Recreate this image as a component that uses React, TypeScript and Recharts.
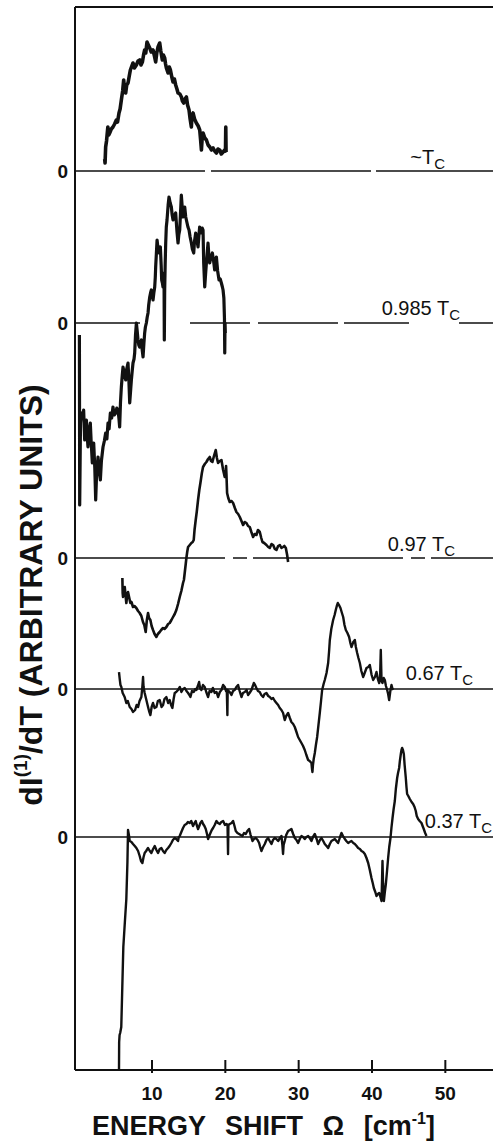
import { LineChart, Line, XAxis, YAxis, ReferenceLine } from "recharts";

// energy shift (cm-1) vs dI/dT, each trace read relative to its own zero line
const tempLabels = ["~", "0.985 ", "0.97 ", "0.67 ", "0.37 "];
const zeroLevels = [899, 747, 512, 381, 233];
const xTicks = [10, 20, 30, 40, 50];

const traceTc: [number, number][] = [
  [3.55,12],[3.6,8],[3.68,24],[3.8,30],[3.98,44],[4.1,36],[4.23,38],[4.45,42],[4.68,44],[4.9,47],[5.14,51],[5.3,49],[5.5,58],[5.65,62],[5.82,71],[6.0,80],[6.14,91],[6.25,82],[6.41,78],[6.55,86],[6.73,88],[6.9,95],[7.05,101],[7.2,104],[7.41,108],[7.6,103],[7.87,106],[8.1,110],[8.32,111],[8.5,106],[8.69,109],[8.85,116],[9.0,121],[9.15,118],[9.32,129],[9.5,126],[9.69,123],[9.9,119],[10.14,121],[10.3,116],[10.5,109],[10.65,118],[10.82,124],[11.05,128],[11.2,120],[11.41,111],[11.55,116],[11.73,113],[11.85,107],[11.96,103],[12.19,98],[12.35,104],[12.51,101],[12.7,94],[12.87,89],[13.05,92],[13.23,86],[13.4,82],[13.55,78],[13.8,77],[14.01,74],[14.15,70],[14.33,68],[14.5,72],[14.69,74],[14.85,66],[15.05,61],[15.2,52],[15.37,44],[15.45,56],[15.6,58],[15.8,52],[16.05,48],[16.3,45],[16.51,41],[16.62,32],[16.74,21],[16.85,34],[16.97,38],[17.2,33],[17.42,31],[17.65,26],[17.88,24],[18.1,21],[18.33,23],[18.55,20],[18.79,18],[19.0,22],[19.24,21],[19.45,17],[19.7,19],[19.92,21],[20.02,20],[20.06,44],[20.1,19],
];

const trace0985: [number, number][] = [
  [0.1,-12],[0.14,-182],[0.25,-100],[0.36,-90],[0.5,-95],[0.68,-87],[0.82,-117],[0.95,-105],[1.05,-97],[1.15,-112],[1.27,-124],[1.4,-108],[1.59,-100],[1.7,-118],[1.86,-140],[1.95,-128],[2.05,-120],[2.2,-145],[2.32,-177],[2.45,-150],[2.64,-134],[2.8,-148],[2.96,-157],[3.1,-138],[3.32,-124],[3.5,-118],[3.68,-110],[3.85,-116],[4.0,-100],[4.15,-106],[4.32,-90],[4.5,-95],[4.68,-84],[4.85,-92],[5.05,-90],[5.2,-85],[5.37,-87],[5.5,-96],[5.59,-104],[5.7,-80],[5.82,-64],[5.95,-52],[6.05,-44],[6.2,-50],[6.41,-57],[6.55,-46],[6.73,-40],[6.85,-58],[6.96,-80],[7.1,-66],[7.19,-57],[7.3,-48],[7.41,-40],[7.55,-36],[7.64,-30],[7.75,-12],[7.87,0],[7.98,-8],[8.09,-17],[8.2,-22],[8.32,-24],[8.45,-19],[8.55,-17],[8.65,-26],[8.78,-34],[8.9,-20],[9.0,-10],[9.1,-4],[9.23,0],[9.35,6],[9.46,10],[9.55,18],[9.69,26],[9.8,30],[9.91,33],[10.02,28],[10.14,23],[10.25,30],[10.37,36],[10.45,46],[10.5,56],[10.6,70],[10.69,83],[10.8,76],[10.96,70],[11.05,74],[11.14,76],[11.25,58],[11.32,43],[11.42,40],[11.5,36],[11.58,44],[11.64,50],[11.68,-17],[11.73,33],[11.8,60],[11.87,80],[11.95,96],[12.05,103],[12.2,118],[12.32,126],[12.48,120],[12.64,116],[12.75,108],[12.87,103],[13.05,107],[13.23,110],[13.4,92],[13.55,80],[13.65,88],[13.78,93],[13.9,112],[14.0,128],[14.1,118],[14.23,106],[14.35,112],[14.46,116],[14.6,106],[14.78,100],[14.9,96],[15.05,93],[15.2,86],[15.37,80],[15.5,74],[15.69,70],[15.8,82],[15.96,90],[16.1,84],[16.28,76],[16.4,88],[16.5,96],[16.6,90],[16.73,90],[16.85,95],[16.96,93],[17.05,60],[17.19,36],[17.3,48],[17.42,60],[17.55,72],[17.64,80],[17.75,68],[17.87,60],[18.05,66],[18.23,70],[18.4,62],[18.55,53],[18.65,60],[18.78,66],[18.95,52],[19.14,43],[19.3,44],[19.46,40],[19.6,36],[19.69,33],[19.8,25],[19.88,5],[19.92,-30],[19.96,0],[20.0,-10],
];

const trace097: [number, number][] = [
  [5.96,-20],[6.0,-35],[6.05,-39],[6.15,-31],[6.28,-29],[6.4,-38],[6.5,-45],[6.6,-38],[6.73,-34],[6.9,-40],[7.05,-45],[7.2,-44],[7.41,-49],[7.6,-48],[7.86,-50],[8.1,-53],[8.32,-55],[8.55,-58],[8.77,-64],[8.95,-67],[9.14,-74],[9.3,-62],[9.46,-55],[9.6,-60],[9.78,-62],[9.95,-68],[10.14,-72],[10.35,-76],[10.6,-79],[10.8,-76],[11.05,-74],[11.25,-72],[11.5,-70],[11.7,-71],[11.96,-69],[12.2,-66],[12.41,-65],[12.65,-62],[12.87,-59],[13.1,-56],[13.32,-52],[13.55,-46],[13.78,-39],[14.0,-33],[14.23,-25],[14.35,-22],[14.46,-15],[14.6,-6],[14.69,0],[14.8,6],[14.92,11],[15.15,13],[15.37,15],[15.55,16],[15.69,18],[15.8,28],[15.96,38],[16.1,46],[16.28,58],[16.45,68],[16.6,75],[16.8,85],[16.96,91],[17.2,94],[17.42,96],[17.65,99],[17.87,101],[18.05,97],[18.24,96],[18.45,102],[18.69,108],[18.85,100],[19.01,95],[19.25,97],[19.47,98],[19.7,88],[19.92,81],[20.05,86],[20.1,92],[20.15,84],[20.24,65],[20.4,60],[20.6,56],[20.85,57],[21.06,55],[21.3,50],[21.51,46],[21.75,44],[21.97,41],[22.2,37],[22.42,33],[22.65,36],[22.88,35],[23.1,32],[23.33,31],[23.55,26],[23.79,21],[24.0,24],[24.24,23],[24.45,28],[24.7,26],[24.9,20],[25.06,16],[25.3,15],[25.61,13],[25.85,11],[26.06,10],[26.3,14],[26.52,13],[26.75,9],[26.97,8],[27.2,12],[27.43,13],[27.65,10],[27.88,11],[28.05,12],[28.25,10],[28.43,3],[28.56,-4],
];

const trace067: [number, number][] = [
  [5.5,17],[5.6,10],[5.7,4],[5.82,2],[6.0,-4],[6.27,-8],[6.5,-14],[6.7,-12],[6.96,-18],[7.2,-20],[7.41,-23],[7.7,-21],[7.9,-16],[8.1,-18],[8.3,-12],[8.55,-8],[8.68,2],[8.78,12],[8.85,2],[9.0,-4],[9.2,-10],[9.46,-18],[9.6,-22],[9.78,-26],[9.95,-18],[10.14,-14],[10.35,-19],[10.6,-18],[10.8,-12],[11.05,-11],[11.3,-18],[11.51,-16],[11.7,-10],[11.96,-8],[12.2,-14],[12.41,-11],[12.6,-16],[12.78,-19],[12.95,-10],[13.1,-4],[13.3,-3],[13.55,-1],[13.8,2],[14.01,-3],[14.25,0],[14.46,1],[14.7,-2],[14.92,-4],[15.1,-6],[15.24,-8],[15.45,-2],[15.69,-3],[15.9,0],[16.05,-1],[16.25,3],[16.42,7],[16.55,1],[16.74,-1],[16.95,4],[17.19,2],[17.4,-3],[17.65,-8],[17.85,-2],[18.1,-3],[18.3,1],[18.56,-4],[18.8,-3],[19.01,-8],[19.25,-3],[19.47,-1],[19.7,4],[19.92,2],[20.1,-2],[20.2,-1],[20.28,-26],[20.32,-1],[20.6,-3],[20.83,-6],[21.05,-2],[21.28,-1],[21.5,2],[21.74,4],[21.95,-2],[22.2,-8],[22.4,-4],[22.65,-3],[22.9,-1],[23.1,-6],[23.3,-4],[23.56,-1],[23.75,3],[23.88,6],[24.05,4],[24.24,1],[24.45,-2],[24.69,-3],[24.9,-6],[25.15,-8],[25.35,-5],[25.6,-4],[25.85,-7],[26.06,-8],[26.3,-10],[26.51,-9],[26.75,-12],[26.97,-14],[27.2,-16],[27.42,-19],[27.65,-21],[27.88,-24],[28.0,-28],[28.1,-31],[28.3,-27],[28.56,-24],[28.8,-29],[29.01,-33],[29.25,-35],[29.47,-38],[29.7,-43],[29.92,-48],[30.15,-51],[30.38,-54],[30.6,-57],[30.83,-61],[31.05,-66],[31.29,-71],[31.5,-72],[31.74,-74],[31.82,-80],[31.88,-83],[31.95,-76],[32.05,-70],[32.2,-64],[32.35,-56],[32.52,-48],[32.7,-36],[32.88,-24],[33.05,-12],[33.2,-1],[33.4,5],[33.56,9],[33.8,16],[34.02,26],[34.15,38],[34.25,49],[34.45,60],[34.7,69],[34.9,74],[35.06,79],[35.2,83],[35.34,86],[35.5,84],[35.7,81],[35.9,76],[36.07,72],[36.25,64],[36.43,59],[36.65,56],[36.88,52],[37.05,46],[37.2,42],[37.45,47],[37.66,49],[37.8,42],[37.98,36],[38.15,31],[38.34,26],[38.55,18],[38.79,12],[39.0,16],[39.25,21],[39.5,22],[39.7,24],[39.95,14],[40.16,9],[40.4,12],[40.61,17],[40.8,10],[40.98,6],[41.1,12],[41.2,39],[41.3,8],[41.43,6],[41.6,11],[41.75,9],[41.9,3],[42.07,-1],[42.2,-5],[42.34,-11],[42.5,-2],[42.66,4],[42.8,0],[42.89,1],
];

const trace037: [number, number][] = [
  [5.5,-233],[5.52,-205],[5.58,-198],[5.66,-196],[5.81,-190],[5.95,-150],[6.09,-110],[6.3,-85],[6.5,-62],[6.65,-25],[6.73,7],[6.85,2],[6.96,-4],[7.2,-5],[7.41,-7],[7.65,-9],[7.87,-11],[8.1,-14],[8.32,-19],[8.5,-24],[8.69,-26],[8.85,-20],[9.0,-16],[9.2,-14],[9.46,-11],[9.7,-14],[9.91,-16],[10.15,-12],[10.37,-9],[10.6,-13],[10.82,-16],[11.05,-12],[11.28,-11],[11.5,-14],[11.73,-16],[11.95,-13],[12.19,-11],[12.4,-9],[12.64,-6],[12.85,-3],[13.1,-1],[13.3,-2],[13.55,-4],[13.65,0],[13.78,1],[14.0,5],[14.23,9],[14.45,12],[14.69,13],[14.9,15],[15.14,14],[15.35,16],[15.6,11],[15.8,14],[15.96,16],[16.1,12],[16.28,8],[16.45,11],[16.6,14],[16.8,16],[16.97,13],[17.15,11],[17.33,8],[17.5,3],[17.65,-2],[17.8,1],[17.97,4],[18.15,7],[18.33,9],[18.55,12],[18.79,16],[19.0,14],[19.24,13],[19.45,15],[19.7,16],[19.95,12],[20.15,13],[20.3,12],[20.37,-17],[20.42,12],[20.6,13],[20.85,14],[21.06,16],[21.25,11],[21.42,6],[21.65,4],[21.88,3],[22.1,2],[22.33,1],[22.55,4],[22.79,3],[23.0,6],[23.24,8],[23.45,2],[23.7,-4],[23.9,-2],[24.15,-1],[24.4,-3],[24.61,-6],[24.75,-10],[24.92,-14],[25.15,-10],[25.38,-7],[25.6,-3],[25.83,-1],[26.05,-4],[26.29,-7],[26.5,-3],[26.74,-1],[26.95,-2],[27.2,-4],[27.45,-1],[27.65,1],[27.78,-8],[27.87,-17],[27.95,-8],[28.1,-4],[28.3,2],[28.56,6],[28.8,7],[29.01,8],[29.25,3],[29.47,-1],[29.7,-3],[29.92,-6],[30.15,-2],[30.38,1],[30.6,0],[30.83,-2],[31.05,0],[31.29,1],[31.5,-1],[31.74,-4],[31.95,0],[32.2,3],[32.45,-2],[32.65,-7],[32.9,-3],[33.11,-1],[33.35,-4],[33.56,-7],[33.8,-9],[34.02,-11],[34.25,-7],[34.47,-4],[34.7,-3],[34.93,-2],[35.15,-4],[35.38,-6],[35.6,-1],[35.84,4],[36.05,1],[36.29,-2],[36.5,-4],[36.75,-6],[36.95,-5],[37.2,-4],[37.45,-6],[37.66,-7],[37.9,-9],[38.11,-11],[38.35,-12],[38.57,-14],[38.8,-15],[39.02,-17],[39.25,-21],[39.48,-26],[39.7,-33],[39.93,-41],[40.1,-46],[40.25,-51],[40.45,-55],[40.61,-59],[40.8,-57],[40.98,-56],[41.15,-60],[41.3,-64],[41.38,-40],[41.43,-24],[41.5,-45],[41.62,-64],[41.75,-55],[41.89,-47],[42.05,-34],[42.2,-21],[42.35,-10],[42.52,-1],[42.65,9],[42.8,19],[42.95,28],[43.11,36],[43.25,48],[43.43,59],[43.55,64],[43.7,69],[43.8,76],[43.93,83],[44.02,87],[44.11,89],[44.22,87],[44.34,83],[44.45,72],[44.61,59],[44.7,50],[44.79,43],[44.95,41],[45.16,38],[45.4,35],[45.61,33],[45.8,30],[45.97,26],[46.1,21],[46.29,18],[46.5,16],[46.75,14],[46.9,11],[47.06,8],[47.25,4],[47.43,1],
];

const traces = [traceTc, trace0985, trace097, trace067, trace037];

const FONT = '"Liberation Sans", Arial, Helvetica, sans-serif';
const INK = "#111";
const yTop = 1063;
const lineWidths = [3.6, 3.2, 2.6, 2.4, 2.4];
const zeroDash = ["130 6 160 5", "65 50 60 8 80 6", "150 8 14 6", undefined, undefined];
// label placement: distance from the right edge and lift above the zero line
const labelSpots = [
  { gap: 48, lift: 7 },
  { gap: 33, lift: 8 },
  { gap: 38, lift: 7 },
  { gap: 20, lift: 9 },
  { gap: 1, lift: 9 },
];

const traceData = traces.map((t, i) => t.map(([x, v]) => ({ x, y: zeroLevels[i] + v })));

const XTick = (p: any) => (
  <g>
    <line x1={p.x} x2={p.x} y1={p.y - 10} y2={p.y + 3} stroke={INK} strokeWidth={2} />
    <text x={p.x} y={p.y + 30} textAnchor="middle" fontFamily={FONT} fontWeight="bold" fontSize={19} fill={INK}>
      {p.payload.value}
    </text>
  </g>
);

const YTick = (p: any) => (
  <text x={p.x} y={p.y} dy={7} textAnchor="end" fontFamily={FONT} fontWeight="bold" fontSize={19} fill={INK}>
    0
  </text>
);

const XTitle = (p: any) => {
  const vb = p.viewBox;
  return (
    <text x={vb.x + 17} y={vb.y + 65} fontFamily={FONT} fontWeight="bold" fontSize={27} fill={INK} style={{ wordSpacing: 12 }}>
      ENERGY SHIFT Ω [cm<tspan dy={-11} fontSize={16}>-1</tspan><tspan dy={11}>]</tspan>
    </text>
  );
};

const YTitle = (p: any) => {
  const vb = p.viewBox;
  const cx = vb.x + 31;
  const cy = vb.y + 588;
  return (
    <text
      x={cx}
      y={cy}
      transform={`rotate(-90, ${cx}, ${cy})`}
      textAnchor="middle"
      dominantBaseline="central"
      fontFamily={FONT}
      fontWeight="bold"
      fontSize={32}
      fill={INK}
    >
      dI<tspan dy={-11} fontSize={19}>(1)</tspan><tspan dy={11}>/dT (ARBITRARY UNITS)</tspan>
    </text>
  );
};

const traceLabel = (i: number) => (p: any) => {
  const vb = p.viewBox;
  const s = labelSpots[i];
  return (
    <text x={vb.x + vb.width - s.gap} y={vb.y - s.lift} textAnchor="end" fontFamily={FONT} fontSize={20} fill={INK}>
      {tempLabels[i]}T<tspan fontSize={15} dy={5}>C</tspan>
    </text>
  );
};

export default function App() {
  return (
    <div style={{ position: "absolute", left: 0, top: 0, background: "#fff" }}>
      <LineChart width={493} height={1141} margin={{ top: 7, right: 0, bottom: 0, left: 0 }}>
        <XAxis
          dataKey="x"
          type="number"
          domain={[-0.5, 56.5]}
          ticks={xTicks}
          interval={0}
          height={71}
          tickLine={false}
          tickSize={0}
          tickMargin={0}
          axisLine={{ stroke: INK, strokeWidth: 2 }}
          tick={<XTick />}
          label={{ content: XTitle }}
        />
        <YAxis
          type="number"
          domain={[0, yTop]}
          ticks={zeroLevels}
          interval={0}
          width={75}
          tickLine={false}
          tickSize={0}
          tickMargin={7}
          axisLine={{ stroke: INK, strokeWidth: 2 }}
          tick={<YTick />}
          label={{ content: YTitle }}
        />
        <ReferenceLine y={yTop} stroke={INK} strokeWidth={2} />
        {zeroLevels.map((z, i) => (
          <ReferenceLine
            key={`z${i}`}
            y={z}
            stroke={INK}
            strokeWidth={1.6}
            strokeDasharray={zeroDash[i]}
            label={{ content: traceLabel(i) }}
          />
        ))}
        {traceData.map((d, i) => (
          <Line
            key={`t${i}`}
            data={d}
            dataKey="y"
            type="linear"
            stroke={INK}
            strokeWidth={lineWidths[i]}
            strokeLinejoin="round"
            dot={false}
            isAnimationActive={false}
          />
        ))}
      </LineChart>
    </div>
  );
}
